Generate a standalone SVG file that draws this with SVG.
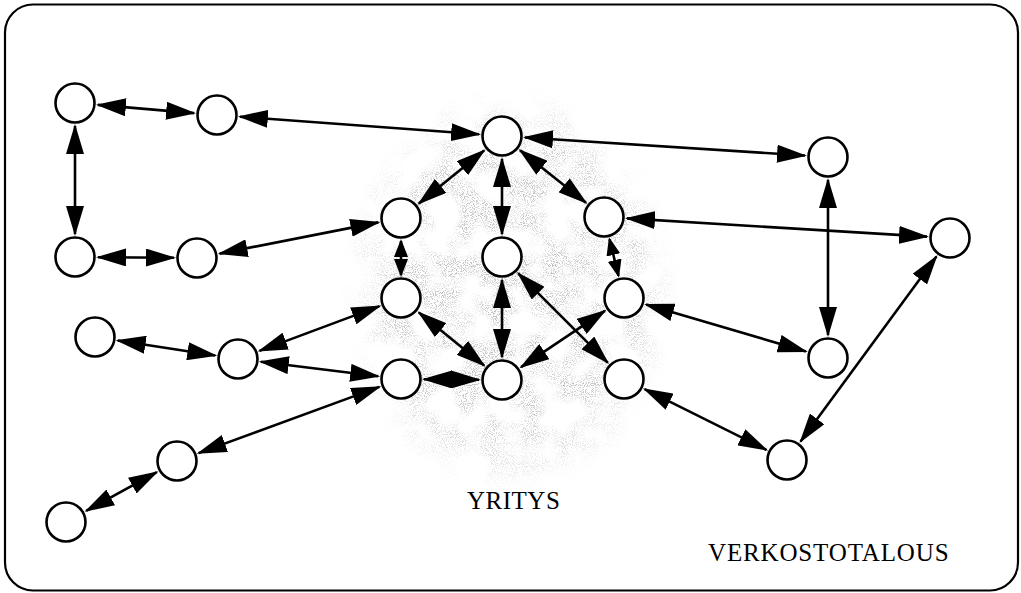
<svg xmlns="http://www.w3.org/2000/svg" width="1021" height="593" viewBox="0 0 1021 593">
  <style>
    .node circle { fill: #ffffff; stroke: #000000; stroke-width: 2.6; }
    .link { stroke: #000000; stroke-width: 2.6; fill: none; }
    .label { font-family: "Liberation Serif", "Times New Roman", serif; font-size: 25px; fill: #000000; }
  </style>
  <defs>
    <!-- large filled arrowhead, tip at the line end -->
    <marker id="ah" refX="28" refY="9" markerWidth="31" markerHeight="18" markerUnits="userSpaceOnUse" orient="auto-start-reverse">
      <path d="M0,0 L30,9 L0,18 z" fill="#000000"/>
    </marker>
    <!-- small arrowhead for the short links -->
    <marker id="ahs" refX="16" refY="7" markerWidth="19" markerHeight="14" markerUnits="userSpaceOnUse" orient="auto-start-reverse">
      <path d="M0,0 L18,7 L0,14 z" fill="#000000"/>
    </marker>
    <radialGradient id="coreFade" cx="0.5" cy="0.5" r="0.5">
      <stop offset="0" stop-color="#000000" stop-opacity="1"/>
      <stop offset="0.7" stop-color="#000000" stop-opacity="0.8"/>
      <stop offset="1" stop-color="#000000" stop-opacity="0"/>
    </radialGradient>
    <!-- clumpy grey speckle texture -->
    <filter id="stipple" x="-10%" y="-10%" width="120%" height="120%">
      <feTurbulence type="fractalNoise" baseFrequency="0.035" numOctaves="2" seed="3" result="t1"/>
      <feColorMatrix in="t1" type="matrix" values="0 0 0 0 0  0 0 0 0 0  0 0 0 0 0  4 0 0 0 -1.5" result="clump"/>
      <feTurbulence type="fractalNoise" baseFrequency="1.1" numOctaves="1" seed="5" result="t2"/>
      <feColorMatrix in="t2" type="matrix" values="0 0 0 0 0.5  0 0 0 0 0.5  0 0 0 0 0.5  6 0 0 0 -2.9" result="dots"/>
      <feComposite in="dots" in2="clump" operator="in" result="m"/>
      <feComposite in="m" in2="SourceGraphic" operator="in"/>
    </filter>
  </defs>

  <rect x="0" y="0" width="1021" height="593" fill="#ffffff"/>
  <!-- outer frame -->
  <rect x="5" y="4.5" width="1013" height="586" rx="28" ry="28" fill="none" stroke="#000000" stroke-width="2.2"/>

  <!-- speckled core region -->
  <ellipse cx="510" cy="290" rx="170" ry="205" fill="url(#coreFade)" filter="url(#stipple)"/>

  <!-- connectors -->
  <g id="connectors" marker-start="url(#ah)" marker-end="url(#ah)">
    <line class="link" x1="97.9" y1="104.9" x2="194.1" y2="113.1"/>
    <line class="link" x1="75" y1="126" x2="75" y2="234"/>
    <line class="link" x1="98" y1="257.2" x2="174" y2="257.8"/>
    <line class="link" x1="239.9" y1="116.7" x2="479.1" y2="134.3"/>
    <line class="link" x1="219.6" y1="253.6" x2="378.4" y2="222.4"/>
    <line class="link" x1="117.7" y1="340.5" x2="215.3" y2="355.5"/>
    <line class="link" x1="259.5" y1="350.9" x2="379.5" y2="306.1"/>
    <line class="link" x1="260.8" y1="361.8" x2="378.2" y2="376.2"/>
    <line class="link" x1="198.6" y1="453.1" x2="379.4" y2="386.9"/>
    <line class="link" x1="86.2" y1="510.9" x2="156.8" y2="472.1"/>
    <line class="link" x1="484.1" y1="150.5" x2="418.9" y2="203.5"/>
    <line class="link" x1="502" y1="159" x2="502" y2="234"/>
    <line class="link" x1="520.0" y1="150.3" x2="586.0" y2="202.7"/>
    <line class="link" x1="525.0" y1="137.5" x2="805.0" y2="155.5"/>
    <line class="link" x1="401" y1="241" x2="401" y2="275" marker-start="url(#ahs)" marker-end="url(#ahs)"/>
    <line class="link" x1="418.9" y1="312.5" x2="484.1" y2="365.5"/>
    <line class="link" x1="424" y1="379.2" x2="479" y2="379.8"/>
    <line class="link" x1="502" y1="280" x2="502" y2="357"/>
    <line class="link" x1="518.3" y1="273.3" x2="607.7" y2="362.7"/>
    <line class="link" x1="604.9" y1="310.8" x2="521.1" y2="367.2"/>
    <line class="link" x1="609.5" y1="239.3" x2="618.5" y2="275.7" marker-start="url(#ahs)" marker-end="url(#ahs)"/>
    <line class="link" x1="627.0" y1="218.4" x2="927.0" y2="236.6"/>
    <line class="link" x1="646.1" y1="304.5" x2="805.9" y2="351.5"/>
    <line class="link" x1="828" y1="180" x2="828" y2="335"/>
    <line class="link" x1="936.4" y1="256.5" x2="800.6" y2="441.5"/>
    <line class="link" x1="644.6" y1="389.2" x2="766.4" y2="449.8"/>
  </g>

  <!-- nodes -->
  <g id="n-a" class="node"><circle cx="75" cy="103" r="19.5"/></g>
  <g id="n-b" class="node"><circle cx="217" cy="115" r="19.5"/></g>
  <g id="n-c" class="node"><circle cx="75" cy="257" r="19.5"/></g>
  <g id="n-d" class="node"><circle cx="197" cy="258" r="19.5"/></g>
  <g id="n-e" class="node"><circle cx="95" cy="337" r="19.5"/></g>
  <g id="n-f" class="node"><circle cx="238" cy="359" r="19.5"/></g>
  <g id="n-g" class="node"><circle cx="177" cy="461" r="19.5"/></g>
  <g id="n-h" class="node"><circle cx="66" cy="522" r="19.5"/></g>
  <g id="n-i" class="node"><circle cx="401" cy="218" r="19.5"/></g>
  <g id="n-j" class="node"><circle cx="401" cy="298" r="19.5"/></g>
  <g id="n-k" class="node"><circle cx="401" cy="379" r="19.5"/></g>
  <g id="n-l" class="node"><circle cx="502" cy="136" r="19.5"/></g>
  <g id="n-m" class="node"><circle cx="502" cy="257" r="19.5"/></g>
  <g id="n-n" class="node"><circle cx="502" cy="380" r="19.5"/></g>
  <g id="n-o" class="node"><circle cx="604" cy="217" r="19.5"/></g>
  <g id="n-p" class="node"><circle cx="624" cy="298" r="19.5"/></g>
  <g id="n-q" class="node"><circle cx="624" cy="379" r="19.5"/></g>
  <g id="n-r" class="node"><circle cx="828" cy="157" r="19.5"/></g>
  <g id="n-s" class="node"><circle cx="950" cy="238" r="19.5"/></g>
  <g id="n-t" class="node"><circle cx="828" cy="358" r="19.5"/></g>
  <g id="n-u" class="node"><circle cx="787" cy="460" r="19.5"/></g>

  <!-- labels -->
  <text class="label" x="467" y="509" letter-spacing="0.5">YRITYS</text>
  <text class="label" x="708" y="561" letter-spacing="0.85">VERKOSTOTALOUS</text>
</svg>
